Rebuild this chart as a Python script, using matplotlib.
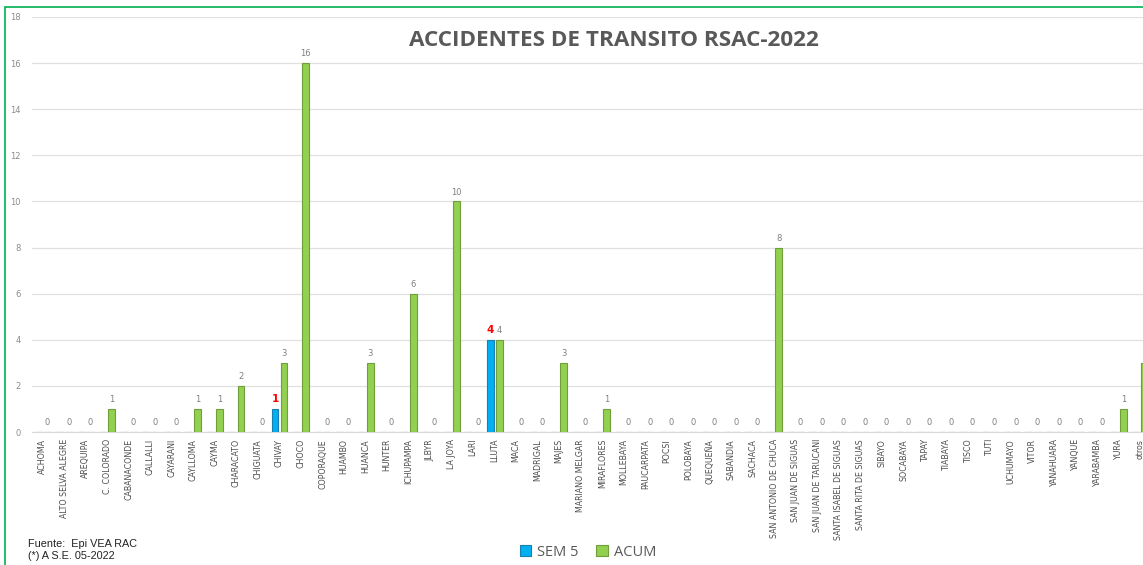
import matplotlib
matplotlib.use("Agg")
import matplotlib.pyplot as plt
import numpy as np
from matplotlib.patches import Rectangle

categories = ["ACHOMA", "ALTO SELVA ALEGRE", "AREQUIPA", "C. COLORADO", "CABANACONDE",
              "CALLALLI", "CAYARANI", "CAYLLOMA", "CAYMA", "CHARACATO", "CHIGUATA",
              "CHIVAY", "CHOCO", "COPORAQUE", "HUAMBO", "HUANCA", "HUNTER", "ICHUPAMPA",
              "JLBYR", "LA JOYA", "LARI", "LLUTA", "MACA", "MADRIGAL", "MAJES",
              "MARIANO MELGAR", "MIRAFLORES", "MOLLEBAYA", "PAUCARPATA", "POCSI",
              "POLOBAYA", "QUEQUEÑA", "SABANDIA", "SACHACA", "SAN ANTONIO DE CHUCA",
              "SAN JUAN DE SIGUAS", "SAN JUAN DE TARUCANI", "SANTA ISABEL DE SIGUAS",
              "SANTA RITA DE SIGUAS", "SIBAYO", "SOCABAYA", "TAPAY", "TIABAYA", "TISCO",
              "TUTI", "UCHUMAYO", "VITOR", "YANAHUARA", "YANQUE", "YARABAMBA", "YURA",
              "otros"]
sem5 = [0, 0, 0, 0, 0, 0, 0, 0, 0, 0, 0, 1, 0, 0, 0, 0, 0, 0, 0, 0, 0, 4, 0, 0, 0,
        0, 0, 0, 0, 0, 0, 0, 0, 0, 0, 0, 0, 0, 0, 0, 0, 0, 0, 0, 0, 0, 0, 0, 0, 0, 0, 0]
acum = [0, 0, 0, 1, 0, 0, 0, 1, 1, 2, 0, 3, 16, 0, 0, 3, 0, 6, 0, 10, 0, 4, 0, 0, 3,
        0, 1, 0, 0, 0, 0, 0, 0, 0, 8, 0, 0, 0, 0, 0, 0, 0, 0, 0, 0, 0, 0, 0, 0, 0, 1, 3]
yticks = [0, 2, 4, 6, 8, 10, 12, 14, 16, 18]

W, H = 1143, 565
fig = plt.figure(figsize=(W / 100, H / 100), dpi=100)
fig.patch.set_facecolor("white")

ax = fig.add_axes([32 / W, 133 / H, 1119 / W, 415 / H])
x = np.arange(len(categories))
bw = 0.32
off = 0.21
c_blue, c_blue_e = "#00B0F0", "#1a7fb0"
c_green, c_green_e = "#92D050", "#6f9e3a"
ax.bar(x - off, sem5, bw, color=c_blue, edgecolor=c_blue_e, linewidth=0.8, zorder=3, label="SEM 5")
ax.bar(x + off, acum, bw, color=c_green, edgecolor=c_green_e, linewidth=0.8, zorder=3, label="ACUM")

for i, v in enumerate(acum):
    ax.annotate(str(v), (x[i] + off, v), xytext=(0, 3.5), textcoords="offset points",
                ha="center", va="bottom", fontsize=6, color="#7f7f7f", clip_on=False)
for i, v in enumerate(sem5):
    if v:
        ax.annotate(str(v), (x[i] - off, v), xytext=(0, 3.5), textcoords="offset points",
                    ha="center", va="bottom", fontsize=7.5, color="#FF0000",
                    fontweight="bold", clip_on=False)

ax.set_xlim(-0.5, len(categories) - 0.5)
ax.set_ylim(0, 18)
ax.set_yticks(yticks)
ax.set_yticklabels([str(t) for t in yticks], fontsize=6, color="#8c8c8c")
ax.set_xticks(x)
ax.set_xticklabels(categories, rotation=90, fontsize=5.7, color="#4d4d4d",
                   family=["Liberation Sans Narrow", "DejaVu Sans"], va="top")
ax.tick_params(axis="both", length=0)
ax.tick_params(axis="x", pad=5)
ax.tick_params(axis="y", pad=8)
ax.grid(axis="y", color="#e0e0e0", linewidth=0.9, zorder=0)
for s in ["top", "right", "left"]:
    ax.spines[s].set_visible(False)
ax.spines["bottom"].set_color("#d9d9d9")

fig.text(614 / W, 1 - 41 / H, "ACCIDENTES DE TRANSITO RSAC-2022", ha="center", va="center",
         fontsize=16.2, fontweight="bold", color="#595959", family="Open Sans")

leg = fig.legend(loc="center", bbox_to_anchor=(588 / W, 1 - 552 / H), ncol=2, frameon=False,
                 handlelength=0.8, handleheight=0.8, handletextpad=0.4,
                 columnspacing=1.2, prop={"family": "Open Sans", "size": 10.5})
for t in leg.get_texts():
    t.set_color("#595959")

fig.text(28 / W, 1 - 544 / H, "Fuente:  Epi VEA RAC", ha="left", va="center",
         fontsize=7.8, color="#222222", family="Liberation Sans")
fig.text(28 / W, 1 - 556 / H, "(*) A S.E. 05-2022", ha="left", va="center",
         fontsize=7.8, color="#222222", family="Liberation Sans")

fig.add_artist(Rectangle((5 / W, -0.05), 1.2, 1 - 7 / H + 0.05, transform=fig.transFigure,
                         fill=False, edgecolor="#00B050", linewidth=1.2))

fig.savefig("out.png", dpi=100)
